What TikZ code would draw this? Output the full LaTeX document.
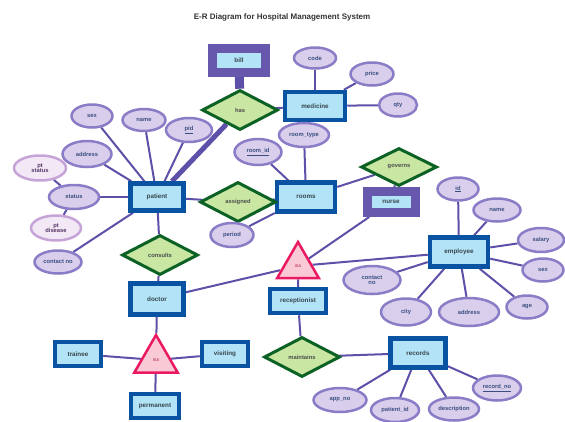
\documentclass[tikz,border=0pt]{standalone}
\usepackage{fontspec}
\setmainfont{Liberation Sans}
\usetikzlibrary{shapes.geometric,backgrounds}

\definecolor{entline}{HTML}{0A52A2}
\definecolor{entfill}{HTML}{B2E3F6}
\definecolor{enttext}{HTML}{37454D}
\definecolor{attline}{HTML}{8A7CC6}
\definecolor{attfill}{HTML}{D9CEEB}
\definecolor{atttext}{HTML}{3A4F80}
\definecolor{mvline}{HTML}{C7A4D8}
\definecolor{mvfill}{HTML}{F3E8F5}
\definecolor{mvtext}{HTML}{563868}
\definecolor{relline}{HTML}{0C6124}
\definecolor{relfill}{HTML}{C9E7A3}
\definecolor{isaline}{HTML}{EA1A62}
\definecolor{isafill}{HTML}{F9CAD5}
\definecolor{wkline}{HTML}{6757AD}
\definecolor{linkcol}{HTML}{5D50A8}

\tikzset{
  entity/.style={rectangle, draw=entline, line width=4.5pt, fill=entfill,
    inner sep=1pt, font=\bfseries\fontsize{6.3}{7}\selectfont, text=enttext},
  weakent/.style={rectangle, draw=wkline, line width=9pt, fill=entfill,
    inner sep=1pt, font=\bfseries\fontsize{6.3}{7}\selectfont, text=enttext},
  attr/.style={ellipse, draw=attline, line width=2.5pt, fill=attfill,
    inner sep=0pt, font=\bfseries\fontsize{5.8}{6.3}\selectfont, text=atttext, align=center},
  mvattr/.style={ellipse, draw=mvline, line width=2.5pt, fill=mvfill,
    inner sep=0pt, font=\bfseries\fontsize{5.8}{6.3}\selectfont, text=mvtext, align=center},
  rel/.style={diamond, draw=relline, line width=3pt, fill=relfill, aspect=2,
    inner sep=0pt, font=\bfseries\fontsize{5.8}{6.3}\selectfont, text=black!70},
  isa/.style={regular polygon, regular polygon sides=3, draw=isaline,
    line width=2.5pt, fill=isafill, inner sep=0pt,
    font=\fontsize{4}{4}\selectfont, text=isaline!70!black},
  link/.style={draw=linkcol, line width=2pt},
  heavy/.style={draw=linkcol, line width=5pt},
  heading/.style={font=\bfseries\fontsize{8}{9}\selectfont, text=black!80}
}

\begin{document}
\begin{tikzpicture}[x=1pt,y=-1pt]
\useasboundingbox (0,0) rectangle (565,421);

\node[heading] (title) at (282,17) {E-R Diagram for Hospital Management System};

% entities
\node[entity, minimum width=53pt, minimum height=27pt] (patient) at (157,197) {patient};
\node[entity, minimum width=60pt, minimum height=28pt] (medicine) at (315,106) {medicine};
\node[entity, minimum width=58pt, minimum height=29pt] (rooms) at (306,197) {rooms};
\node[entity, minimum width=58pt, minimum height=29pt] (employee) at (459,252) {employee};
\node[entity, minimum width=56pt, minimum height=24pt] (recep) at (298,301) {receptionist};
\node[entity, minimum width=55pt, minimum height=29pt] (records) at (418,353) {records};
\node[entity, minimum width=53pt, minimum height=31pt] (doctor) at (157,299) {doctor};
\node[entity, minimum width=46pt, minimum height=24pt] (trainee) at (78,354) {trainee};
\node[entity, minimum width=46pt, minimum height=24pt] (visiting) at (225,354) {visiting};
\node[entity, minimum width=48pt, minimum height=24pt] (permanent) at (155,406) {permanent};

% entities drawn with a wide purple frame
\node[weakent, minimum width=53pt, minimum height=24pt] (bill) at (239,60) {bill};
\node[weakent, minimum width=48pt, minimum height=21pt] (nurse) at (391,202) {nurse};

% relationships
\node[rel, minimum width=76pt, minimum height=40pt] (has) at (240,110) {has};
\node[rel, minimum width=76pt, minimum height=40pt] (assigned) at (238,202) {assigned};
\node[rel, minimum width=76pt, minimum height=38pt] (governs) at (399,167) {governs};
\node[rel, minimum width=76pt, minimum height=40pt] (consults) at (160,255) {consults};
\node[rel, minimum width=76pt, minimum height=40pt] (maintains) at (302,357) {maintains};

% specialisations
\node[isa, minimum size=48pt] (isaemp) at (298,266) {ISA};
\node[isa, minimum size=50pt] (isadoc) at (156,360) {ISA};

% patient attributes
\node[attr, minimum width=41pt, minimum height=23pt] (psex) at (92,116) {sex};
\node[attr, minimum width=43pt, minimum height=22pt] (pname) at (144,120) {name};
\node[attr, minimum width=46pt, minimum height=24pt] (pid) at (189,130) {\underline{pid}};
\node[attr, minimum width=49pt, minimum height=26pt] (paddr) at (87,154) {address};
\node[attr, minimum width=50pt, minimum height=24pt] (pstatus) at (74,197) {status};
\node[mvattr, minimum width=52pt, minimum height=25pt] (pst) at (40,168) {pt\\[-1pt]status};
\node[mvattr, minimum width=50pt, minimum height=25pt] (pdis) at (56,228) {pt\\[-1pt]disease};
\node[attr, minimum width=47pt, minimum height=23pt] (pcont) at (58,262) {contact no};

% medicine attributes
\node[attr, minimum width=42pt, minimum height=21pt] (mcode) at (315,58) {code};
\node[attr, minimum width=43pt, minimum height=23pt] (mprice) at (372,74) {price};
\node[attr, minimum width=38pt, minimum height=23pt] (mqty) at (398,105) {qty};

% room attributes
\node[attr, minimum width=47pt, minimum height=26pt] (roomid) at (258,152) {\underline{room\_id}};
\node[attr, minimum width=50pt, minimum height=24pt] (roomtype) at (304,135) {room\_type};
\node[attr, minimum width=43pt, minimum height=24pt] (period) at (232,235) {period};

% employee attributes
\node[attr, minimum width=41pt, minimum height=23pt] (eid) at (458,189) {\underline{id}};
\node[attr, minimum width=47pt, minimum height=23pt] (ename) at (497,210) {name};
\node[attr, minimum width=46pt, minimum height=24pt] (esal) at (541,240) {salary};
\node[attr, minimum width=41pt, minimum height=23pt] (esex) at (543,270) {sex};
\node[attr, minimum width=41pt, minimum height=23pt] (eage) at (527,307) {age};
\node[attr, minimum width=60pt, minimum height=28pt] (eaddr) at (469,312) {address};
\node[attr, minimum width=50pt, minimum height=27pt] (ecity) at (406,312) {city};
\node[attr, minimum width=57pt, minimum height=28pt] (econt) at (372,280) {contact\\[-1pt]no};

% record attributes
\node[attr, minimum width=48pt, minimum height=25pt] (recno) at (497,388) {\underline{record\_no}};
\node[attr, minimum width=53pt, minimum height=24pt] (appno) at (340,400) {app\_no};
\node[attr, minimum width=48pt, minimum height=24pt] (patid) at (395,410) {patient\_id};
\node[attr, minimum width=50pt, minimum height=23pt] (descr) at (454,409) {description};

\begin{scope}[on background layer]
  % patient side
  \foreach \a in {psex,pname,pid,paddr,pstatus,pcont}
    \draw[link] (patient) -- (\a);
  \draw[link] (pstatus) -- (pst);
  \draw[link] (pstatus) -- (pdis);
  \draw[heavy] (patient) -- (has);
  \draw[draw=linkcol, line width=9pt] (has) -- (bill);
  \draw[link] (has) -- (medicine);
  \foreach \a in {mcode,mprice,mqty}
    \draw[link] (medicine) -- (\a);
  % rooms
  \draw[link] (patient) -- (assigned);
  \draw[link] (assigned) -- (rooms);
  \foreach \a in {roomid,roomtype,period}
    \draw[link] (rooms) -- (\a);
  \draw[link] (rooms) -- (governs);
  \draw[link] (governs) -- (nurse);
  % employees
  \foreach \a in {eid,ename,esal,esex,eage,eaddr,ecity,econt}
    \draw[link] (employee) -- (\a);
  \draw[link] (employee) -- (isaemp);
  \draw[link] (nurse) -- (isaemp);
  \draw[link] (doctor) -- (isaemp);
  \draw[link] (isaemp) -- (recep);
  \draw[link] (recep) -- (maintains);
  \draw[link] (maintains) -- (records);
  \foreach \a in {recno,appno,patid,descr}
    \draw[link] (records) -- (\a);
  % doctors
  \draw[link] (patient) -- (consults);
  \draw[link] (consults) -- (doctor);
  \draw[link] (doctor) -- (isadoc);
  \draw[link] (isadoc) -- (trainee);
  \draw[link] (isadoc) -- (visiting);
  \draw[link] (isadoc) -- (permanent);
\end{scope}
\end{tikzpicture}
\end{document}
